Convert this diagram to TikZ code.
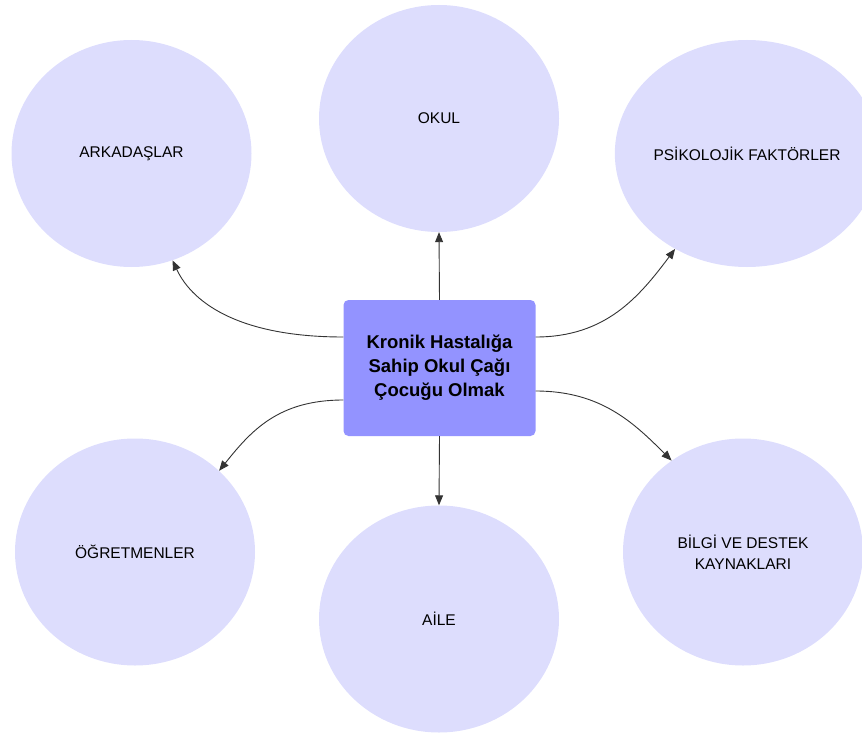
\documentclass[tikz,border=0pt]{standalone}
\usepackage{fontspec}
\setmainfont{Liberation Sans}
\usetikzlibrary{shapes.geometric,arrows.meta}

\definecolor{topicfill}{RGB}{221,221,253}
\definecolor{corefill}{RGB}{147,147,255}
\definecolor{linkcol}{RGB}{51,51,51}

\tikzset{
  topic/.style={ellipse, fill=topicfill, draw=none, inner sep=0pt,
    minimum width=240pt, minimum height=227pt, align=center,
    font=\fontsize{15.5}{21}\selectfont, text=black},
  core/.style={rectangle, rounded corners=5pt, fill=corefill, draw=none,
    minimum width=192pt, minimum height=136pt, inner sep=0pt, align=center,
    font=\fontsize{18.5}{24}\selectfont\bfseries, text=black},
  link/.style={draw=linkcol, line width=0.9pt,
    -{Triangle[length=10pt,width=8pt]}},
}

\begin{document}
\begin{tikzpicture}[x=1pt, y=-1pt]
  \useasboundingbox (0,0) rectangle (862,733);

  % topic ellipses around the central box
  \node[topic] (okul) at (439,118.5) {OKUL};
  \node[topic] (ark)  at (131.5,153.5) {ARKADAŞLAR};
  \node[topic] (psi)  at (747,153.5) {PSİKOLOJİK FAKTÖRLER};
  \node[topic] (ogr)  at (135,552) {ÖĞRETMENLER};
  \node[topic] (aile) at (439,619) {AİLE};
  \node[topic] (bil)  at (743,552) {BİLGİ VE DESTEK\\KAYNAKLARI};

  % central box
  \node[core] (core) at (439.5,368) {Kronik Hastalığa\\Sahip Okul Çağı\\Çocuğu Olmak};

  % connectors
  \draw[link] (core.north) -- (okul.south);
  \draw[link] (core.south) -- (aile.north);
  \draw[link] ([yshift=31pt]core.west) .. controls +(-100,0) and +(21,45) .. (ark.-69.5);
  \draw[link] ([yshift=31pt]core.east) .. controls +(70,0) and +(-36,48) .. (psi.-127);
  \draw[link] ([yshift=-32pt]core.west) .. controls +(-65,0) and +(32,-40) .. (ogr.44);
  \draw[link] ([yshift=-23pt]core.east) .. controls +(65,0) and +(-38,-38) .. (bil.128);
\end{tikzpicture}
\end{document}
